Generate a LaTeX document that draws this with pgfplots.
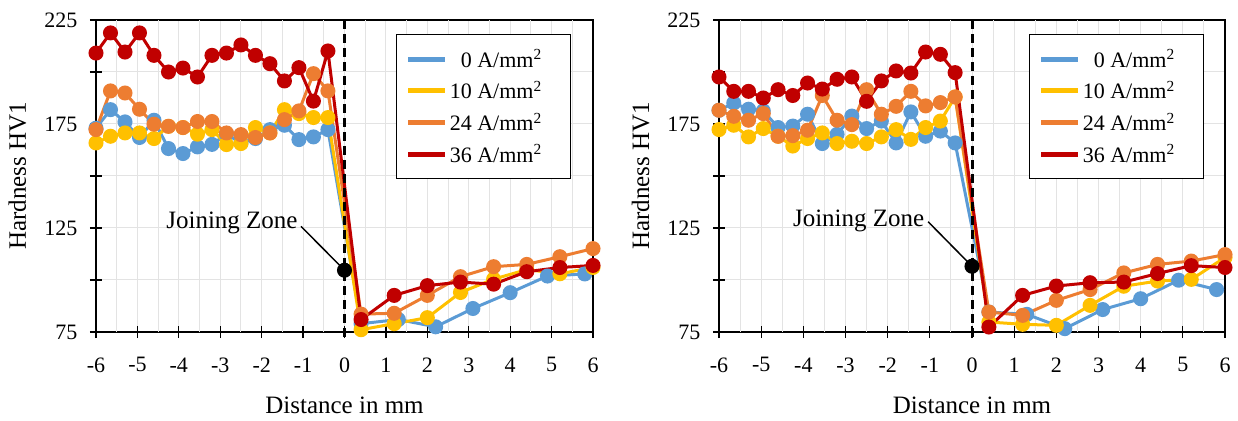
\documentclass[border=0pt]{standalone}
\usepackage{fontspec}
\setmainfont{Liberation Serif}
\usepackage{pgfplots}
\pgfplotsset{compat=1.18}
\definecolor{cB}{RGB}{91,155,213}
\definecolor{cY}{RGB}{255,192,0}
\definecolor{cO}{RGB}{237,125,49}
\definecolor{cR}{RGB}{192,0,0}
\pgfplotsset{
  hv/.style={
    scale only axis, height=312bp,
    xmin=-6, xmax=6, ymin=75, ymax=225,
    clip=false,
    xtick={-6,...,6},
    xticklabels={\textrm{-6},\textrm{-5},\textrm{-4},\textrm{-3},\textrm{-2},\textrm{-1},\textrm{0},\textrm{1},\textrm{2},\textrm{3},\textrm{4},\textrm{5},\textrm{6}},
    ytick={75,100,...,225},
    yticklabels={\textrm{75},,\textrm{125},,\textrm{175},,\textrm{225}},
    extra x ticks={-5.5,-4.5,-3.5,-2.5,-1.5,-0.5,0.5,1.5,2.5,3.5,4.5,5.5},
    extra x tick labels={},
    extra x tick style={major tick length=0pt, grid=major},
    xtick pos=bottom, ytick pos=left,
    tick align=center, major tick length=12bp,
    major tick style={black, line width=1.3bp},
    axis line style={black, line width=1.3bp},
    grid=major,
    major grid style={gray!22, line width=1bp},
    tick label style={font=\fontsize{22bp}{26bp}\selectfont},
    xticklabel style={yshift=-16bp},
    yticklabel style={xshift=-9bp},
    xlabel={Distance in mm}, ylabel={Hardness HV1},
    xlabel style={font=\fontsize{25bp}{30bp}\selectfont, at={(axis description cs:0.5,-0.234)}, anchor=center},
    ylabel style={font=\fontsize{25bp}{30bp}\selectfont, anchor=center},
    legend style={draw=black, line width=1.2bp, fill=white,
      font=\fontsize{22bp}{26bp}\selectfont, cells={anchor=east},
      row sep=8.5bp, inner xsep=9bp, inner ysep=13bp},
    legend image code/.code={\draw[line width=5bp] (0bp,0bp) -- (37bp,0bp);},
    every axis plot/.append style={line width=3bp, mark=*, mark size=6bp},
  }
}
\newcommand{\legtxt}[1]{#1 A/mm\textsuperscript{2}\rule{18bp}{0bp}}
\begin{document}
\begin{tikzpicture}
\path[use as bounding box] (0,0) rectangle (1238bp,421bp);
% ---------------- left
\begin{axis}[hv, width=497bp, at={(96bp,89bp)}, anchor=south west,
  ylabel style={at={(axis description cs:-0.158,0.5)}},
  legend style={at={(0.604,0.955)}, anchor=north west}]
\addplot[cB, mark options={fill=cB}] coordinates {
(-6,173)(-5.65,181.9)(-5.3,176)(-4.95,168.5)(-4.6,176.8)(-4.25,163.2)(-3.9,160.8)(-3.55,164)(-3.2,165.2)(-2.85,170.1)(-2.5,165.9)(-2.15,168)(-1.8,172.3)(-1.45,174.4)(-1.1,167.5)(-0.75,168.8)(-0.4,172.3)
(0.4,79)(1.3,81)(2.2,77.5)(3.1,86.3)(4.0,93.9)(4.9,101.9)(5.8,102.9)};
\addlegendentry{\legtxt{0}}
\addplot[cY, mark options={fill=cY}] coordinates {
(-6,165.9)(-5.65,169.1)(-5.3,170.7)(-4.95,170.7)(-4.6,168)(-4.25,173.9)(-3.9,173.3)(-3.55,170.1)(-3.2,172.3)(-2.85,165.1)(-2.5,165.6)(-2.15,173.3)(-1.8,170.7)(-1.45,181.9)(-1.1,180)(-0.75,178.1)(-0.4,178.1)
(0.4,76.1)(1.2,79)(2.0,81.9)(2.8,94)(3.6,100.4)(4.4,105)(5.2,103)(6.0,106)};
\addlegendentry{\legtxt{10}}
\addplot[cO, mark options={fill=cO}] coordinates {
(-6,172.3)(-5.65,190.9)(-5.3,189.9)(-4.95,182.1)(-4.6,174.9)(-4.25,173.9)(-3.9,173.3)(-3.55,176.2)(-3.2,176.2)(-2.85,170.7)(-2.5,169.9)(-2.15,168.5)(-1.8,170.7)(-1.45,177.1)(-1.1,181.3)(-0.75,199.2)(-0.4,190.9)
(0.4,83.6)(1.2,84)(2.0,92.6)(2.8,101.6)(3.6,106.4)(4.4,107.5)(5.2,111.2)(6.0,115.1)};
\addlegendentry{\legtxt{24}}
\addplot[cR, mark options={fill=cR}] coordinates {
(-6,209.1)(-5.65,218.8)(-5.3,209.6)(-4.95,218.8)(-4.6,208)(-4.25,200)(-3.9,201.9)(-3.55,197.6)(-3.2,208)(-2.85,209.1)(-2.5,213)(-2.15,208)(-1.8,204)(-1.45,195.7)(-1.1,202.1)(-0.75,186)(-0.4,210.1)
(0.4,81)(1.2,92.6)(2.0,97.3)(2.8,99)(3.6,98)(4.4,104)(5.2,106)(6.0,107)};
\addlegendentry{\legtxt{36}}
\draw[black, line width=3bp, dash pattern=on 9bp off 5bp] (axis cs:0,225) -- (axis cs:0,70.2);
\draw[black, line width=1.5bp] (axis cs:-1.05,125.8) -- (axis cs:0,104.7);
\addplot[black, only marks, mark=*, mark size=6bp, forget plot] coordinates {(0,104.7)};
\node[anchor=east, font=\fontsize{25bp}{29bp}\selectfont, inner sep=2bp] at (axis cs:-1.08,127.3) {Joining Zone};
\end{axis}
% ---------------- right
\begin{axis}[hv, width=506bp, at={(719bp,89bp)}, anchor=south west,
  ylabel style={at={(axis description cs:-0.155,0.5)}},
  legend style={at={(0.613,0.955)}, anchor=north west}]
\addplot[cB, mark options={fill=cB}] coordinates {
(-6,181.6)(-5.65,185.1)(-5.3,182.1)(-4.95,181.3)(-4.6,173.3)(-4.25,174)(-3.9,179.7)(-3.55,165.6)(-3.2,170)(-2.85,178.8)(-2.5,172.8)(-2.15,176.4)(-1.8,165.9)(-1.45,180.8)(-1.1,169.1)(-0.75,171.6)(-0.4,165.9)
(0.4,84.6)(1.3,83.5)(2.2,76.6)(3.1,85.8)(4.0,91)(4.9,99.9)(5.8,95.4)};
\addlegendentry{\legtxt{0}}
\addplot[cY, mark options={fill=cY}] coordinates {
(-6,172.3)(-5.65,174.4)(-5.3,168.8)(-4.95,172.8)(-4.6,169.1)(-4.25,164.4)(-3.9,168)(-3.55,170.7)(-3.2,165.6)(-2.85,166.7)(-2.5,165.6)(-2.15,168.8)(-1.8,172.3)(-1.45,167.6)(-1.1,173.3)(-0.75,176.4)(-0.4,188)
(0.4,79.8)(1.2,78.7)(2.0,78.2)(2.8,87.8)(3.6,97)(4.4,99.5)(5.2,100.3)(6.0,110.8)};
\addlegendentry{\legtxt{10}}
\addplot[cO, mark options={fill=cO}] coordinates {
(-6,181.6)(-5.65,178.7)(-5.3,176.8)(-4.95,180)(-4.6,169.1)(-4.25,169.4)(-3.9,172)(-3.55,188.7)(-3.2,176.8)(-2.85,174.7)(-2.5,191.5)(-2.15,179.7)(-1.8,183.5)(-1.45,190.7)(-1.1,183.7)(-0.75,185.3)(-0.4,188)
(0.4,84.6)(1.2,83)(2.0,90.2)(2.8,95.4)(3.6,103.4)(4.4,107.5)(5.2,109.1)(6.0,112.2)};
\addlegendentry{\legtxt{24}}
\addplot[cR, mark options={fill=cR}] coordinates {
(-6,197.6)(-5.65,190.7)(-5.3,190.7)(-4.95,187.5)(-4.6,191.5)(-4.25,188.7)(-3.9,194.7)(-3.55,191.8)(-3.2,196.5)(-2.85,197.6)(-2.5,185.9)(-2.15,195.7)(-1.8,200.5)(-1.45,199.5)(-1.1,209.6)(-0.75,208.5)(-0.4,199.7)
(0.4,77.4)(1.2,92.6)(2.0,97.1)(2.8,98.7)(3.6,99)(4.4,103.1)(5.2,106.9)(6.0,106)};
\addlegendentry{\legtxt{36}}
\draw[black, line width=3bp, dash pattern=on 9bp off 5bp] (axis cs:0,225) -- (axis cs:0,70.2);
\draw[black, line width=1.5bp] (axis cs:-1.04,128) -- (axis cs:0,106.6);
\addplot[black, only marks, mark=*, mark size=6bp, forget plot] coordinates {(0,106.6)};
\node[anchor=east, font=\fontsize{25bp}{29bp}\selectfont, inner sep=2bp] at (axis cs:-1.08,128.5) {Joining Zone};
\end{axis}
\end{tikzpicture}
\end{document}
